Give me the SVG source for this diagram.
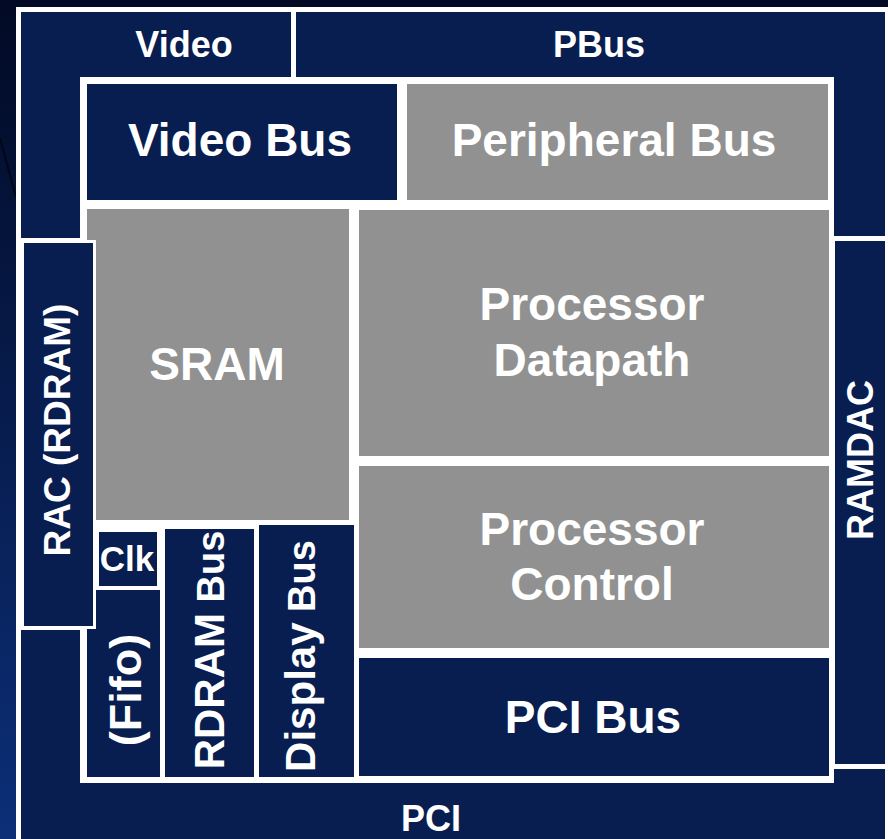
<svg xmlns="http://www.w3.org/2000/svg" width="888" height="839" viewBox="0 0 888 839">
<defs>
<linearGradient id="bg" x1="0" y1="0" x2="0" y2="1">
<stop offset="0" stop-color="#020a24"/>
<stop offset="1" stop-color="#0c2f78"/>
</linearGradient>
<style>
.navy{fill:#081d50}
.gray{fill:#919191}
.t{font-family:"Liberation Sans",Arial,sans-serif;font-weight:bold;fill:#ffffff;text-anchor:middle}
.s{font-size:36px}
.b{font-size:46px}
</style>
</defs>
<rect x="0" y="0" width="888" height="839" fill="url(#bg)"/>
<path d="M0,138 L16,197" stroke="#000716" stroke-width="2" fill="none"/>
<rect x="16" y="7" width="872" height="832" fill="#ffffff"/>

<g id="video">
<path class="navy" d="M21,12 H291 V77 H80 V238 H21 Z"/>
<text class="t s" x="184" y="57">Video</text>
</g>
<g id="pbus">
<path class="navy" d="M296,12 H885 V236 H834 V77 H296 Z"/>
<text class="t s" x="599" y="57">PBus</text>
</g>
<g id="ramdac">
<rect class="navy" x="835" y="241" width="50" height="523"/>
<text class="t s" transform="translate(873,460) rotate(-90)">RAMDAC</text>
</g>
<g id="pci">
<path class="navy" d="M21,630 H80 V783 H834 V769 H885 V839 H21 Z"/>
<text class="t s" x="431" y="831">PCI</text>
</g>
<g id="video-bus">
<rect class="navy" x="87" y="84" width="310" height="116"/>
<text class="t b" x="240" y="156">Video Bus</text>
</g>
<g id="peripheral-bus">
<rect class="gray" x="407" y="84" width="421" height="116"/>
<text class="t b" x="614" y="156">Peripheral Bus</text>
</g>
<g id="sram">
<rect class="gray" x="87" y="209" width="262" height="311"/>
<text class="t b" x="217" y="380">SRAM</text>
</g>
<g id="processor-datapath">
<rect class="gray" x="359" y="210" width="470" height="246"/>
<text class="t b" x="592" y="320">Processor</text>
<text class="t b" x="592" y="376">Datapath</text>
</g>
<g id="processor-control">
<rect class="gray" x="359" y="466" width="470" height="182"/>
<text class="t b" x="592" y="545">Processor</text>
<text class="t b" x="592" y="600">Control</text>
</g>
<g id="pci-bus">
<rect class="navy" x="359" y="658" width="470" height="118"/>
<text class="t b" x="593" y="733">PCI Bus</text>
</g>
<g id="display-bus">
<rect class="navy" x="259" y="525" width="95" height="252"/>
<text class="t" transform="translate(315,656) rotate(-90)"><tspan font-size="42">Display</tspan><tspan font-size="38"> Bus</tspan></text>
</g>
<g id="rdram-bus">
<rect class="navy" x="165" y="529" width="89" height="248"/>
<text class="t" transform="translate(224,650) rotate(-90)"><tspan font-size="42">RDRAM</tspan><tspan font-size="38"> Bus</tspan></text>
</g>
<g id="fifo">
<rect class="navy" x="87" y="590" width="73" height="187"/>
<text class="t" font-size="45" transform="translate(141,690) rotate(-90)">(Fifo)</text>
</g>
<g id="clk">
<rect class="navy" x="99" y="532" width="58" height="54"/>
<text class="t" font-size="35" x="127" y="571">Clk</text>
</g>
<g id="rac">
<rect class="navy" x="22.5" y="241.5" width="72" height="386" stroke="#ffffff" stroke-width="3"/>
<text class="t" font-size="37" transform="translate(70,430) rotate(-90)">RAC (RDRAM)</text>
</g>
<g id="connectors"/>
</svg>
